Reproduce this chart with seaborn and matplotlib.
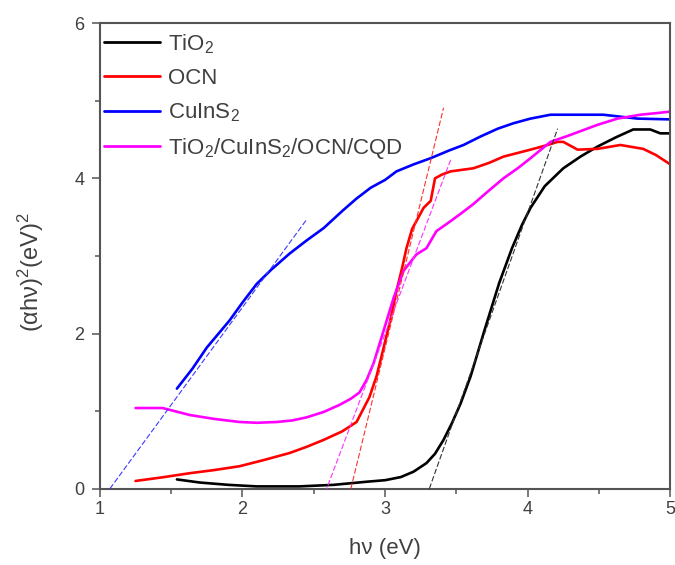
import numpy as np
import pandas as pd
import matplotlib
matplotlib.use("Agg")
import matplotlib.pyplot as plt
import seaborn as sns

# ---- data ----
tio2_x = [1.54, 1.70, 1.90, 2.10, 2.40, 2.64, 2.87, 3.00, 3.11, 3.20, 3.29, 3.35, 3.41, 3.47, 3.53,
          3.60, 3.70, 3.80, 3.89, 3.96, 4.02, 4.12, 4.25, 4.37, 4.49, 4.62, 4.74, 4.86, 4.93, 5.00]
tio2_y = [0.12, 0.08, 0.05, 0.03, 0.03, 0.05, 0.09, 0.11, 0.15, 0.22, 0.33, 0.45, 0.63, 0.85, 1.10,
          1.45, 2.06, 2.65, 3.10, 3.40, 3.62, 3.90, 4.13, 4.28, 4.41, 4.53, 4.63, 4.63, 4.58, 4.58]

ocn_x = [1.25, 1.45, 1.63, 1.80, 1.98, 2.15, 2.33, 2.45, 2.57, 2.70, 2.80, 2.89, 2.94, 2.99, 3.04,
         3.08, 3.12, 3.15, 3.19, 3.22, 3.27, 3.32, 3.35, 3.40, 3.46, 3.62, 3.73, 3.83, 4.02, 4.12,
         4.21, 4.25, 4.30, 4.35, 4.49, 4.65, 4.81, 4.90, 4.95, 5.00]
ocn_y = [0.10, 0.15, 0.20, 0.24, 0.29, 0.37, 0.46, 0.54, 0.63, 0.74, 0.86, 1.18, 1.45, 1.82, 2.20,
         2.55, 2.85, 3.10, 3.35, 3.45, 3.62, 3.71, 4.00, 4.05, 4.09, 4.13, 4.20, 4.28, 4.37, 4.42,
         4.47, 4.47, 4.42, 4.37, 4.38, 4.43, 4.38, 4.30, 4.24, 4.18]

cuins2_x = [1.54, 1.65, 1.75, 1.91, 2.00, 2.10, 2.20, 2.33, 2.45, 2.57, 2.70, 2.80, 2.90, 3.00,
            3.08, 3.20, 3.32, 3.45, 3.55, 3.67, 3.79, 3.90, 4.02, 4.16, 4.35, 4.53, 4.77, 5.00]
cuins2_y = [1.29, 1.55, 1.82, 2.17, 2.40, 2.64, 2.82, 3.03, 3.20, 3.36, 3.58, 3.74, 3.88, 3.98,
            4.09, 4.18, 4.26, 4.36, 4.43, 4.54, 4.64, 4.71, 4.77, 4.82, 4.82, 4.82, 4.77, 4.76]

comp_x = [1.25, 1.44, 1.63, 1.80, 1.98, 2.10, 2.24, 2.35, 2.45, 2.57, 2.68, 2.76, 2.82, 2.87, 2.92,
          2.99, 3.06, 3.13, 3.22, 3.29, 3.36, 3.43, 3.52, 3.62, 3.72, 3.83, 3.93, 4.02, 4.16, 4.30,
          4.49, 4.63, 4.79, 4.90, 5.00]
comp_y = [1.04, 1.04, 0.95, 0.90, 0.86, 0.85, 0.86, 0.88, 0.92, 0.99, 1.08, 1.16, 1.24, 1.40, 1.62,
          2.04, 2.46, 2.81, 3.02, 3.10, 3.32, 3.41, 3.53, 3.67, 3.83, 4.00, 4.13, 4.26, 4.47, 4.56,
          4.69, 4.77, 4.82, 4.84, 4.86]

labels = ["TiO$_2$", "OCN", "CuInS$_2$", "TiO$_2$/CuInS$_2$/OCN/CQD"]
colors = ["#000000", "#ff0000", "#0000ff", "#ff00ff"]

# tangent (band-gap extrapolation) lines: (x0, y0, x1, y1)
tangent_tio2 = [3.31, 0.0, 4.21, 4.64]
tangent_ocn = [2.76, 0.0, 3.41, 4.91]
tangent_cuins2 = [1.07, 0.0, 2.45, 3.47]
tangent_comp = [2.58, -0.05, 3.46, 4.24]
tangents = [tangent_tio2, tangent_ocn, tangent_cuins2, tangent_comp]
tangent_colors = ["#333333", "#ff3030", "#3a3aff", "#ff30ff"]

x_ticks = [1, 2, 3, 4, 5]
y_ticks = [0, 2, 4, 6]

# ---- build long table ----
frames = []
for lab, xs, ys in zip(labels, [tio2_x, ocn_x, cuins2_x, comp_x], [tio2_y, ocn_y, cuins2_y, comp_y]):
    frames.append(pd.DataFrame({"x": xs, "y": ys, "sample": lab}))
df = pd.concat(frames, ignore_index=True)

sns.set_theme(style="ticks")
plt.rcParams["font.family"] = ["Liberation Sans", "DejaVu Sans"]
plt.rcParams["mathtext.fontset"] = "custom"
plt.rcParams["mathtext.rm"] = "Liberation Sans"
plt.rcParams["mathtext.it"] = "Liberation Sans:italic"

fig = plt.figure(figsize=(6.75, 5.65), dpi=100)
ax = fig.add_axes([0.148, 0.135, 0.845, 0.824])

text_col = "#404040"
spine_col = "#555555"

for t, c in zip(tangents, tangent_colors):
    ax.plot([t[0], t[2]], [t[1], t[3]], color=c, lw=0.8, linestyle=(0, (5, 2)), zorder=3)

sns.lineplot(data=df, x="x", y="y", hue="sample", hue_order=labels,
             palette=dict(zip(labels, colors)), sort=False, estimator=None,
             lw=1.9, ax=ax, zorder=2)

ax.set_xlim(1, 5)
ax.set_ylim(0, 6)
ax.set_xticks(x_ticks)
ax.set_yticks(y_ticks)
ax.set_xticks([1.5, 2.5, 3.5, 4.5], minor=True)
ax.set_yticks([1, 3, 5], minor=True)
ax.tick_params(axis="both", which="major", direction="out", length=6, width=1.1,
               color=spine_col, labelsize=13, labelcolor=text_col)
ax.tick_params(axis="y", which="major", pad=5)
ax.tick_params(axis="x", which="major", pad=3)
ax.tick_params(axis="both", which="minor", direction="out", length=3.5, width=1.1, color=spine_col)
ax.tick_params(top=False, right=False, which="both")
for s in ax.spines.values():
    s.set_color(spine_col)
    s.set_linewidth(1.5)

ax.set_xlabel("h\u03bd (eV)", fontsize=16, color=text_col, labelpad=14)
ax.set_ylabel("(\u03b1h\u03bd)$^2$(eV)$^2$", fontsize=17, color=text_col)
ax.yaxis.set_label_coords(-0.095, 0.465)

handles, labs = ax.get_legend_handles_labels()
leg = ax.legend(handles, labs, loc="upper left", bbox_to_anchor=(0.0, 0.99), frameon=False,
                fontsize=16, handlelength=2.5, handletextpad=0.36, labelspacing=0.55,
                borderaxespad=0.0, borderpad=0.2)
for txt in leg.get_texts():
    txt.set_color(text_col)
for h in leg.get_lines():
    h.set_linewidth(2.0)

fig.savefig("out.png", dpi=100)
